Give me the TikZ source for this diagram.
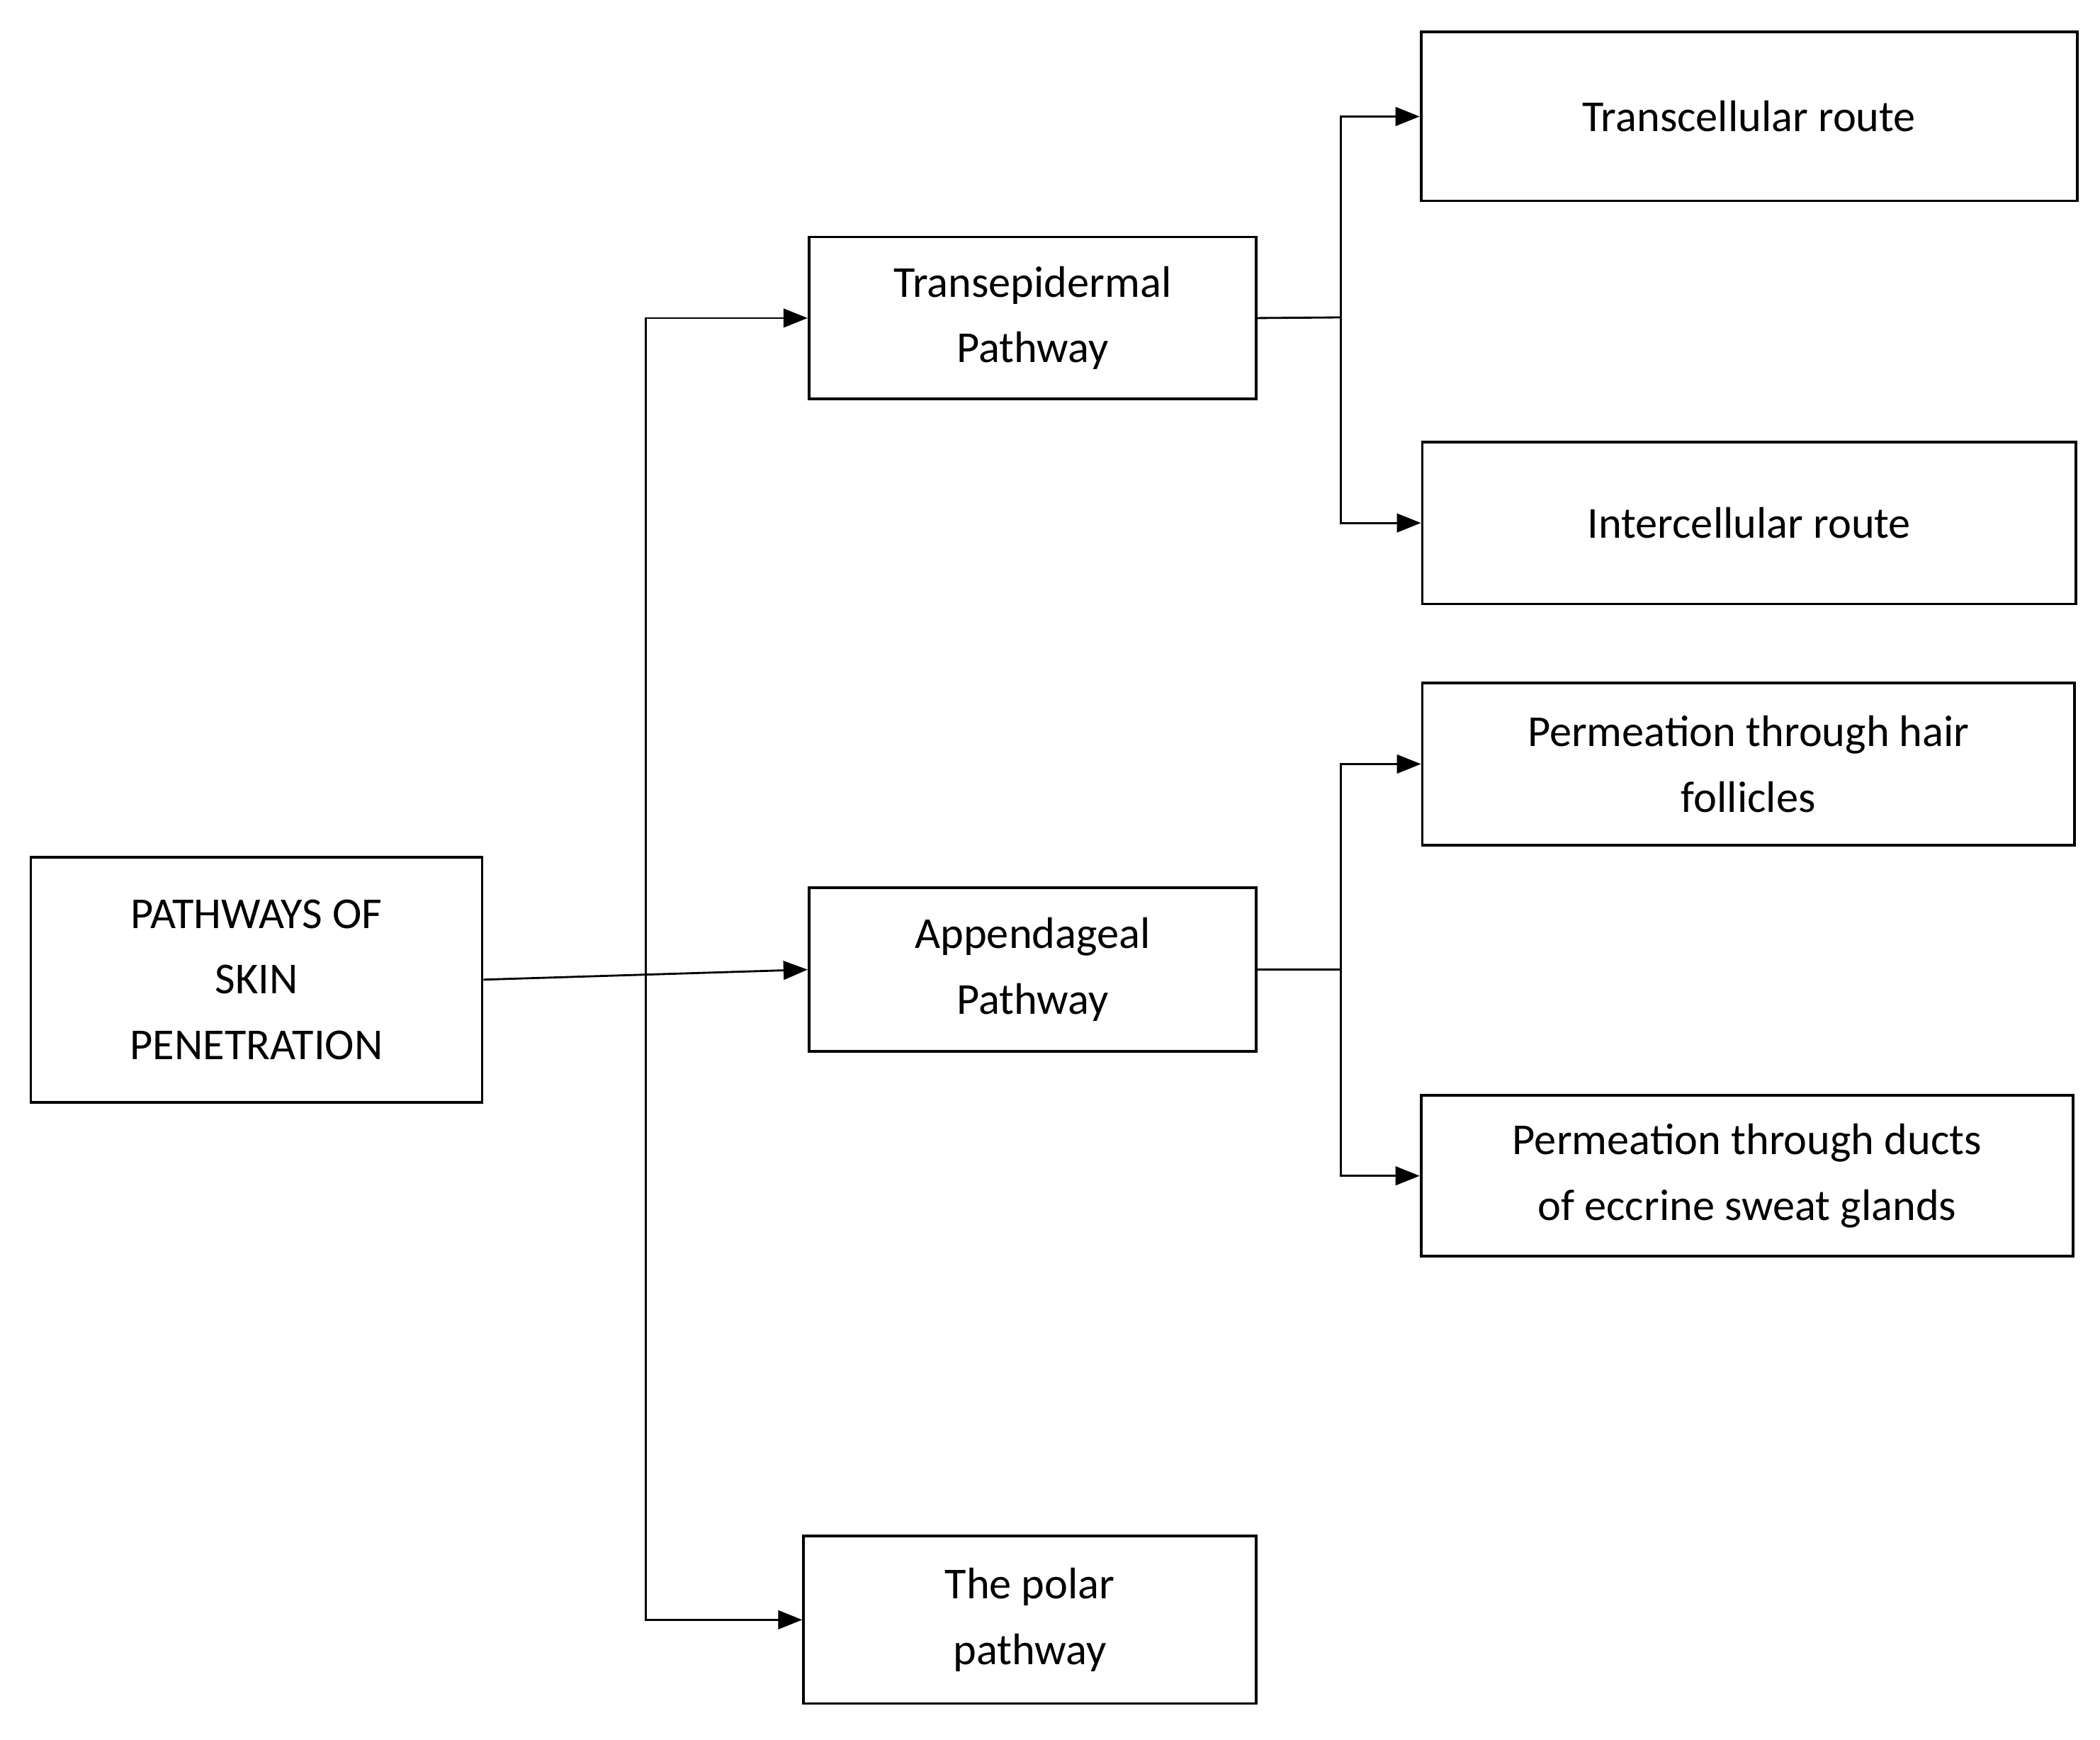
\documentclass[tikz,border=0pt]{standalone}
\usepackage{fontspec}
\setmainfont{Carlito}
\usetikzlibrary{arrows.meta}
\begin{document}
\begin{tikzpicture}[x=0.5pt,y=-0.5pt,
  box/.style={draw,line width=1pt,align=center,inner sep=0pt,font=\fontsize{16.5}{24.5}\selectfont},
  arr/.style={line width=0.75pt,-{Triangle[length=9pt,width=7pt]}},
  ln/.style={line width=0.75pt}]
\useasboundingbox (0,0) rectangle (1568,1299);
\newcommand\bx[6]{\node[box,minimum width=#4*0.5pt-#2*0.5pt,minimum height=#5*0.5pt-#3*0.5pt] (#1) at ({(#2+#4)/2},{(#3+#5)/2}) {#6};}
\bx{root}{23}{640}{360}{823}{PATHWAYS OF\\SKIN\\PENETRATION}
\bx{te}{604}{177}{938}{298}{Transepidermal\\Pathway}
\bx{ap}{604}{663}{938}{785}{Appendageal\\Pathway}
\bx{po}{600}{1147}{938}{1272}{The polar\\pathway}
\bx{tc}{1061}{24}{1551}{150}{Transcellular route}
\bx{ic}{1062}{330}{1550}{451}{Intercellular route}
\bx{hf}{1062}{510}{1549}{631}{Permeation through hair\\follicles}
\bx{du}{1061}{818}{1548}{938}{Permeation through ducts\\of eccrine sweat glands}
\coordinate (j) at (482,723);
\coordinate (k) at (1001,237);
\coordinate (m) at (1001,724);
\draw[arr] (root.east) -- (ap.west);
\draw[arr] (j) |- (te.west);
\draw[arr] (j) |- (po.west);
\draw[ln] (te.east) -- (k);
\draw[arr] (k) |- (tc.west);
\draw[arr] (k) |- (ic.west);
\draw[ln] (ap.east) -- (m);
\draw[arr] (m) |- (hf.west);
\draw[arr] (m) |- (du.west);
\end{tikzpicture}
\end{document}
